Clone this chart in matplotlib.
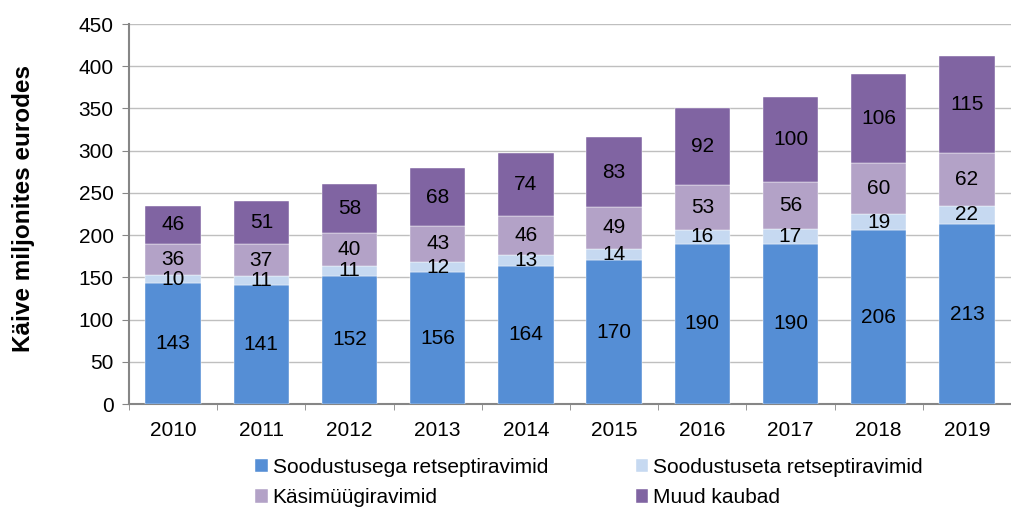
import matplotlib
matplotlib.use("Agg")
import matplotlib.pyplot as plt
import numpy as np

plt.rcParams['font.family'] = ['Liberation Sans', 'DejaVu Sans']

years = ['2010', '2011', '2012', '2013', '2014', '2015', '2016', '2017', '2018', '2019']
soodustusega = [143, 141, 152, 156, 164, 170, 190, 190, 206, 213]
soodustuseta = [10, 11, 11, 12, 13, 14, 16, 17, 19, 22]
kasimuugi = [36, 37, 40, 43, 46, 49, 53, 56, 60, 62]
muud = [46, 51, 58, 68, 74, 83, 92, 100, 106, 115]

series = [
    ('Soodustusega retseptiravimid', soodustusega, '#558ED5'),
    ('Soodustuseta retseptiravimid', soodustuseta, '#C6D9F1'),
    ('Käsimüügiravimid', kasimuugi, '#B3A2C7'),
    ('Muud kaubad', muud, '#8064A2'),
]

FS = 15

fig = plt.figure(figsize=(10.11, 5.11), dpi=100)
ax = fig.add_axes([129/1011, 1-404/511, 1-129/1011, (404-24)/511])

x = np.arange(len(years))
bottom = np.zeros(len(years))
handles = []
for name, vals, col in series:
    vals = np.array(vals, dtype=float)
    b = ax.bar(x, vals, 0.63, bottom=bottom, color=col, label=name, zorder=3,
               edgecolor='white', linewidth=0.3)
    handles.append(b)
    for xi, v, bt in zip(x, vals, bottom):
        ax.text(xi, bt + v/2, f'{int(v)}', ha='center', va='center', fontsize=FS,
                color='black', zorder=4)
    bottom += vals

ax.set_xlim(-0.5, 9.5)
ax.set_ylim(0, 450)
ax.set_yticks(np.arange(0, 451, 50))
ax.yaxis.grid(True, color='#BFBFBF', linewidth=1, zorder=0)
ax.set_axisbelow(True)
ax.set_xticks(x)
ax.set_xticklabels(years)
ax.set_xticks(np.arange(-0.5, 10, 1), minor=True)
ax.tick_params(axis='x', which='major', length=0, labelsize=FS, pad=12)
ax.tick_params(axis='x', which='minor', length=4, color='#868686', direction='out')
ax.tick_params(axis='y', length=5, color='#868686', labelsize=FS, direction='out', pad=6)
for s in ['top', 'right']:
    ax.spines[s].set_visible(False)
for s in ['left', 'bottom']:
    ax.spines[s].set_color('#868686')
    ax.spines[s].set_linewidth(1.5)

fig.text(24/1011, 1-209/511, 'Käive miljonites eurodes', rotation=90, ha='center', va='center',
         fontsize=17.5, fontweight='bold')

order = [0, 2, 1, 3]
leg = fig.legend([handles[i] for i in order], [series[i][0] for i in order], ncol=2,
                 loc='upper left', bbox_to_anchor=(255/1011, 1-458/511), frameon=False,
                 fontsize=FS, handlelength=0.6, handleheight=0.6, handletextpad=0.25,
                 columnspacing=4.2, labelspacing=0.55, borderaxespad=0, borderpad=0)

fig.savefig('out.png', dpi=100)
